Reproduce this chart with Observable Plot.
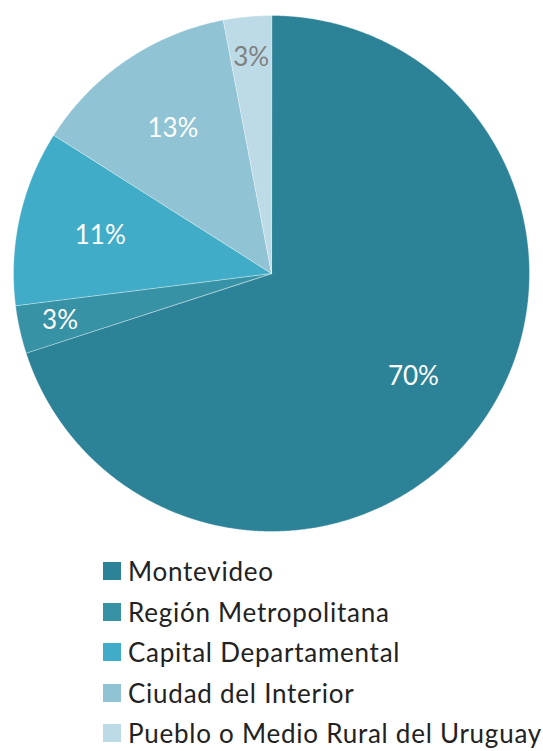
<!DOCTYPE html>
<html>
<head>
<meta charset="utf-8">
<script src="https://cdn.jsdelivr.net/npm/d3@7"></script>
<script src="https://cdn.jsdelivr.net/npm/@observablehq/plot@0.6"></script>
<style>
  body { margin: 0; background: #fff; font-family: Lato, "Open Sans", sans-serif; }
  #chart svg { display: block; }
  .legend { margin: 6px 0 0 103px; }
  .legend .row { display: flex; align-items: center; height: 40.5px; }
  .legend .sw { width: 18px; height: 18px; margin-right: 7px; flex: none; }
  .legend .lab { font-size: 26px; letter-spacing: 0.75px; color: #222; white-space: nowrap; line-height: 1; }
</style>
</head>
<body>
<div id="chart"></div>
<script>
const categories = ["Montevideo", "Región Metropolitana", "Capital Departamental", "Ciudad del Interior", "Pueblo o Medio Rural del Uruguay"];
const shares = [70, 3, 11, 13, 3];
const colors = ["#2C8397", "#3792A6", "#40ACC7", "#90C3D4", "#BDDBE6"];

const arcs = d3.pie().sort(null).value(d => d)(shares);

const slicePoints = [];
arcs.forEach((a, i) => {
  const n = Math.max(4, Math.ceil((a.endAngle - a.startAngle) / 0.005));
  slicePoints.push({cat: categories[i], x: 0, y: 0});
  for (let k = 0; k <= n; ++k) {
    const t = a.startAngle + (a.endAngle - a.startAngle) * k / n;
    slicePoints.push({cat: categories[i], x: Math.sin(t), y: Math.cos(t)});
  }
});

const labels = arcs.map((a, i) => {
  const mid = (a.startAngle + a.endAngle) / 2;
  const r = shares[i] < 5 ? 0.84 : 0.68;
  return {
    x: r * Math.sin(mid),
    y: r * Math.cos(mid),
    text: shares[i] + "%",
    light: d3.lab(colors[i]).l > 80
  };
});

const chart = Plot.plot({
  width: 543,
  height: 545,
  marginLeft: 13,
  marginRight: 14,
  marginTop: 15,
  marginBottom: 14,
  x: {domain: [-1, 1], axis: null},
  y: {domain: [-1, 1], axis: null},
  color: {domain: categories, range: colors},
  style: {fontFamily: "Lato, sans-serif", background: "#fff"},
  marks: [
    Plot.line(slicePoints, {x: "x", y: "y", z: "cat", fill: "cat", stroke: "white", strokeOpacity: 0.45, strokeWidth: 0.8, curve: "linear-closed"}),
    Plot.text(labels, {filter: d => !d.light, x: "x", y: "y", text: "text", fill: "white", fontSize: 26}),
    Plot.text(labels, {filter: d => d.light, x: "x", y: "y", text: "text", fill: "#7F7F7F", fontSize: 26})
  ]
});

const root = document.getElementById("chart");
root.appendChild(chart);

const legend = d3.select(root).append("div").attr("class", "legend");
const rows = legend.selectAll(".row").data(categories).join("div").attr("class", "row");
rows.append("div").attr("class", "sw").style("background", (d, i) => colors[i]);
rows.append("div").attr("class", "lab").text(d => d);
</script>
</body>
</html>
